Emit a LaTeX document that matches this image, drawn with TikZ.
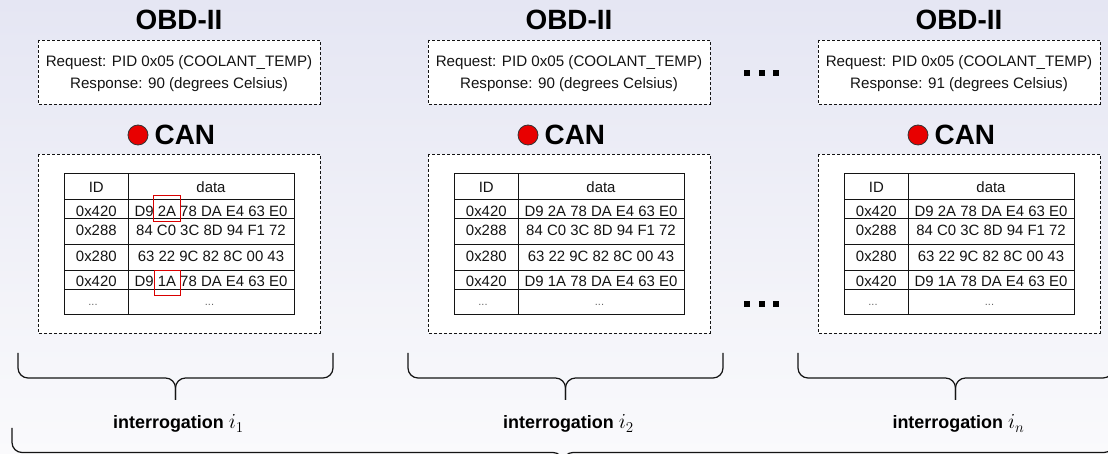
\documentclass[tikz,border=0pt]{standalone}
\usepackage{fix-cm}
\usepackage[no-math]{fontspec}
\setmainfont{Liberation Sans}

\definecolor{bgtop}{RGB}{229,230,243}
\definecolor{bgbot}{RGB}{250,250,252}
\definecolor{busred}{RGB}{232,0,0}
\definecolor{ink}{RGB}{20,20,20}

\tikzset{
  headline/.style={font=\fontsize{28}{32}\selectfont\bfseries, inner sep=0pt, text=black},
  dashbox/.style={draw=ink, fill=white, line width=0.9bp, dash pattern=on 3bp off 2bp},
  msgtext/.style={font=\fontsize{15.2}{18}\selectfont, inner sep=0pt, anchor=base, text=ink},
  celltext/.style={font=\fontsize{15}{18}\selectfont, inner sep=0pt, anchor=base, text=ink},
  elided/.style={font=\fontsize{11}{13}\selectfont, inner sep=0pt, anchor=base, text=black!60},
  gridline/.style={draw=ink, line width=0.9bp},
  hilite/.style={draw=red!85!black, line width=0.9bp},
  bracepath/.style={draw=ink, line width=1.2bp, rounded corners=10bp},
  caption/.style={font=\fontsize{18}{22}\selectfont\bfseries, inner sep=0pt, anchor=base, text=black},
  busdot/.style={circle, fill=busred, draw=black!80, line width=0.8bp, minimum size=20bp, inner sep=0pt},
  gapdot/.style={fill=black},
}

% interrogation index, set a little larger than the bold label text
\newcommand\idx[1]{{\fontsize{21.5}{24}\selectfont$i_{#1}$}}

% one interrogation: OBD-II request/response above the CAN frame log
% #1 horizontal offset, #2 name prefix, #3 response value
\newcommand\obdpanel[3]{%
\begin{scope}[xshift=#1bp]
  \node[headline, anchor=base] (#2obd) at (179,30) {OBD-II};
  \draw[dashbox] (38,40) rectangle (320,104);
  \node[msgtext] (#2req) at (179,67) {Request: PID 0x05 (COOLANT\_TEMP)};
  \node[msgtext] (#2resp) at (179,88.5) {Response: #3 (degrees Celsius)};
  \node[busdot] (#2dot) at (138,135) {};
  \node[headline, anchor=base west] (#2can) at (154.5,145) {CAN};
  \draw[dashbox] (38,154) rectangle (320,333);
  % frame table
  \fill[white] (64.3,173.3) rectangle (294.7,314.3);
  \draw[gridline] (64.3,173.3) rectangle (294.7,314.3);
  \draw[gridline] (128.3,173.3) -- (128.3,314.3);
  \foreach \yl in {199.3,218.3,244,270,289.3}
    \draw[gridline] (64.3,\yl) -- (294.7,\yl);
  \foreach \r/\yb/\idt/\dt in {0/192.5/ID/data,
                               1/216.6/0x420/D9 2A 78 DA E4 63 E0,
                               2/235.6/0x288/84 C0 3C 8D 94 F1 72,
                               3/261.6/0x280/63 22 9C 82 8C 00 43,
                               4/286.6/0x420/D9 1A 78 DA E4 63 E0}{
    \node[celltext] (#2id\r) at (96.3,\yb) {\idt};
    \node[celltext] (#2data\r) at (211,\yb) {\dt};
  }
  \node[elided] (#2id5) at (93,305.5) {...};
  \node[elided] (#2data5) at (209.5,305.5) {...};
\end{scope}}

% curly brace drawn as two rounded halves meeting at the tip
\newcommand\curlybrace[5]{% left x, right x, tip x, top y, bar y ; tip at bar+22
  \draw[bracepath] (#1,#4) -- (#1,#5) -- (#3,#5) -- (#3,#5+22);
  \draw[bracepath] (#2,#4) -- (#2,#5) -- (#3,#5) -- (#3,#5+22);
}

\begin{document}
\begin{tikzpicture}[x=1bp, y=-1bp]
  \useasboundingbox (0,0) rectangle (1108,454);
  \clip (0,0) rectangle (1108,454);
  \shade[top color=bgtop, bottom color=bgbot] (0,0) rectangle (1108,454);

  \obdpanel{0}{a}{90}
  \obdpanel{390}{b}{90}
  \obdpanel{780}{c}{91}

  % changed byte in the repeated 0x420 frame
  \draw[hilite] (153.3,195.7) rectangle (180,221.7);
  \draw[hilite] (154.3,270) rectangle (180.3,295);

  % elision marks between the second and last interrogation
  \foreach \xd in {747,761.7,776}{
    \fill[gapdot] (\xd-2.8,73.3-2.8) rectangle (\xd+2.8,73.3+2.8);
    \fill[gapdot] (\xd-2.8,304.2-2.8) rectangle (\xd+2.8,304.2+2.8);
  }

  % per-interrogation braces and labels
  \curlybrace{18}{333}{175.5}{353}{378}
  \curlybrace{408}{723}{565.5}{353}{378}
  \curlybrace{798}{1113}{955.5}{353}{378}
  \node[caption] (lab1) at (178.5,429) {interrogation \idx{1}};
  \node[caption] (lab2) at (568.5,429) {interrogation \idx{2}};
  \node[caption] (labn) at (958.5,429) {interrogation \idx{n}};

  % overall brace over the whole session
  \curlybrace{12}{1114}{563}{428}{452.5}
\end{tikzpicture}
\end{document}
